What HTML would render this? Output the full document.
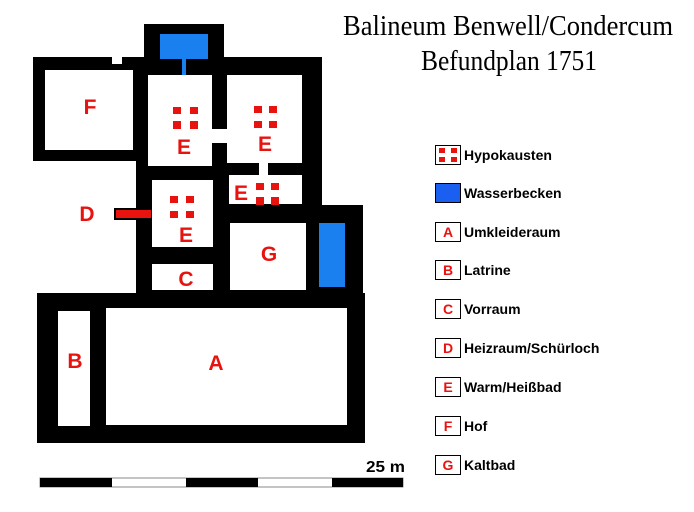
<!DOCTYPE html>
<html><head><meta charset="utf-8"><style>
html,body{margin:0;padding:0;background:#fff;width:694px;height:512px;overflow:hidden}
svg{display:block}
.r{fill:#e8120f;font-family:"Liberation Sans",sans-serif;font-weight:bold;font-size:21px;text-anchor:middle}
.l{fill:#000;font-family:"Liberation Sans",sans-serif;font-weight:bold;font-size:14px}
.lb{fill:#e8120f;font-family:"Liberation Sans",sans-serif;font-weight:bold;font-size:14px;text-anchor:middle}
</style></head><body>
<svg width="694" height="512" xmlns="http://www.w3.org/2000/svg">
<rect x="33" y="57" width="115" height="104" fill="#000"/>
<rect x="144" y="24" width="80" height="40" fill="#000"/>
<rect x="136" y="57" width="186" height="240" fill="#000"/>
<rect x="306" y="205" width="57" height="92" fill="#000"/>
<rect x="37" y="293" width="328" height="150" fill="#000"/>
<rect x="45" y="70" width="88" height="80" fill="#fff"/>
<rect x="112" y="55" width="10" height="9" fill="#fff"/>
<rect x="148" y="75" width="64" height="91" fill="#fff"/>
<rect x="227" y="75" width="75" height="88" fill="#fff"/>
<rect x="210" y="129" width="19" height="14" fill="#fff"/>
<rect x="229" y="175" width="73" height="29" fill="#fff"/>
<rect x="259" y="161" width="9" height="16" fill="#fff"/>
<rect x="152" y="180" width="61" height="67" fill="#fff"/>
<rect x="152" y="264" width="61" height="26" fill="#fff"/>
<rect x="230" y="223" width="76" height="67" fill="#fff"/>
<rect x="58" y="311" width="32" height="115" fill="#fff"/>
<rect x="106" y="308" width="241" height="117" fill="#fff"/>
<rect x="160" y="34" width="48" height="25" fill="#1a7fef"/>
<rect x="182" y="59" width="4" height="16" fill="#1a7fef"/>
<rect x="319" y="223" width="26" height="64" fill="#1a7fef"/>
<rect x="114" y="208" width="38" height="12" fill="#000"/>
<rect x="116" y="210" width="35" height="8" fill="#e8120f"/>
<g fill="#e8120f">
<rect x="173" y="107" width="8" height="7"/><rect x="190" y="107" width="8" height="7"/><rect x="173" y="121" width="8" height="8"/><rect x="190" y="121" width="8" height="8"/>
<rect x="254" y="106" width="8" height="7"/><rect x="269" y="106" width="8" height="7"/><rect x="254" y="121" width="8" height="7"/><rect x="269" y="121" width="8" height="7"/>
<rect x="256" y="183" width="8" height="7"/><rect x="271" y="183" width="8" height="7"/><rect x="256" y="197" width="8" height="8"/><rect x="271" y="197" width="8" height="8"/>
<rect x="170" y="196" width="8" height="7"/><rect x="186" y="196" width="8" height="7"/><rect x="170" y="211" width="8" height="7"/><rect x="186" y="211" width="8" height="7"/>
</g>
<text class="r" x="90" y="114">F</text>
<text class="r" x="184" y="154">E</text>
<text class="r" x="265" y="151">E</text>
<text class="r" x="241" y="200">E</text>
<text class="r" x="186" y="242">E</text>
<text class="r" x="87" y="221">D</text>
<text class="r" x="269" y="261">G</text>
<text class="r" x="186" y="286">C</text>
<text class="r" x="75" y="368">B</text>
<text class="r" x="216" y="370">A</text>
<text x="343" y="35" textLength="330" lengthAdjust="spacingAndGlyphs" font-family="'Liberation Serif',serif" font-size="28">Balineum Benwell/Condercum</text>
<text x="421" y="70" textLength="176" lengthAdjust="spacingAndGlyphs" font-family="'Liberation Serif',serif" font-size="28">Befundplan 1751</text>
<text x="366" y="472" textLength="39" lengthAdjust="spacingAndGlyphs" font-family="'Liberation Sans',sans-serif" font-weight="bold" font-size="16">25 m</text>
<rect x="40" y="478" width="363" height="9" fill="#fff" stroke="#888" stroke-width="1"/>
<rect x="40" y="478" width="72" height="9" fill="#000"/>
<rect x="186" y="478" width="72" height="9" fill="#000"/>
<rect x="332" y="478" width="71" height="9" fill="#000"/>
<rect x="435.5" y="145.5" width="25" height="19" fill="#fff" stroke="#000"/>
<g fill="#e8120f"><rect x="439" y="148" width="6" height="5"/><rect x="451" y="148" width="6" height="5"/><rect x="439" y="157" width="6" height="5"/><rect x="451" y="157" width="6" height="5"/></g>
<text class="l" x="464" y="160">Hypokausten</text>
<rect x="435.5" y="183.5" width="25" height="19" fill="#1a5fef" stroke="#000"/>
<text class="l" x="464" y="198">Wasserbecken</text>
<g>
<rect x="435.5" y="222.5" width="25" height="19" fill="#fff" stroke="#000"/><text class="lb" x="448" y="237">A</text><text class="l" x="464" y="237">Umkleideraum</text>
<rect x="435.5" y="260.5" width="25" height="19" fill="#fff" stroke="#000"/><text class="lb" x="448" y="275">B</text><text class="l" x="464" y="275">Latrine</text>
<rect x="435.5" y="299.5" width="25" height="19" fill="#fff" stroke="#000"/><text class="lb" x="448" y="314">C</text><text class="l" x="464" y="314">Vorraum</text>
<rect x="435.5" y="338.5" width="25" height="19" fill="#fff" stroke="#000"/><text class="lb" x="448" y="353">D</text><text class="l" x="464" y="353">Heizraum/Schürloch</text>
<rect x="435.5" y="377.5" width="25" height="19" fill="#fff" stroke="#000"/><text class="lb" x="448" y="392">E</text><text class="l" x="464" y="392">Warm/Heißbad</text>
<rect x="435.5" y="416.5" width="25" height="19" fill="#fff" stroke="#000"/><text class="lb" x="448" y="431">F</text><text class="l" x="464" y="431">Hof</text>
<rect x="435.5" y="455.5" width="25" height="19" fill="#fff" stroke="#000"/><text class="lb" x="448" y="470">G</text><text class="l" x="464" y="470">Kaltbad</text>
</g>
</svg>
</body></html>
